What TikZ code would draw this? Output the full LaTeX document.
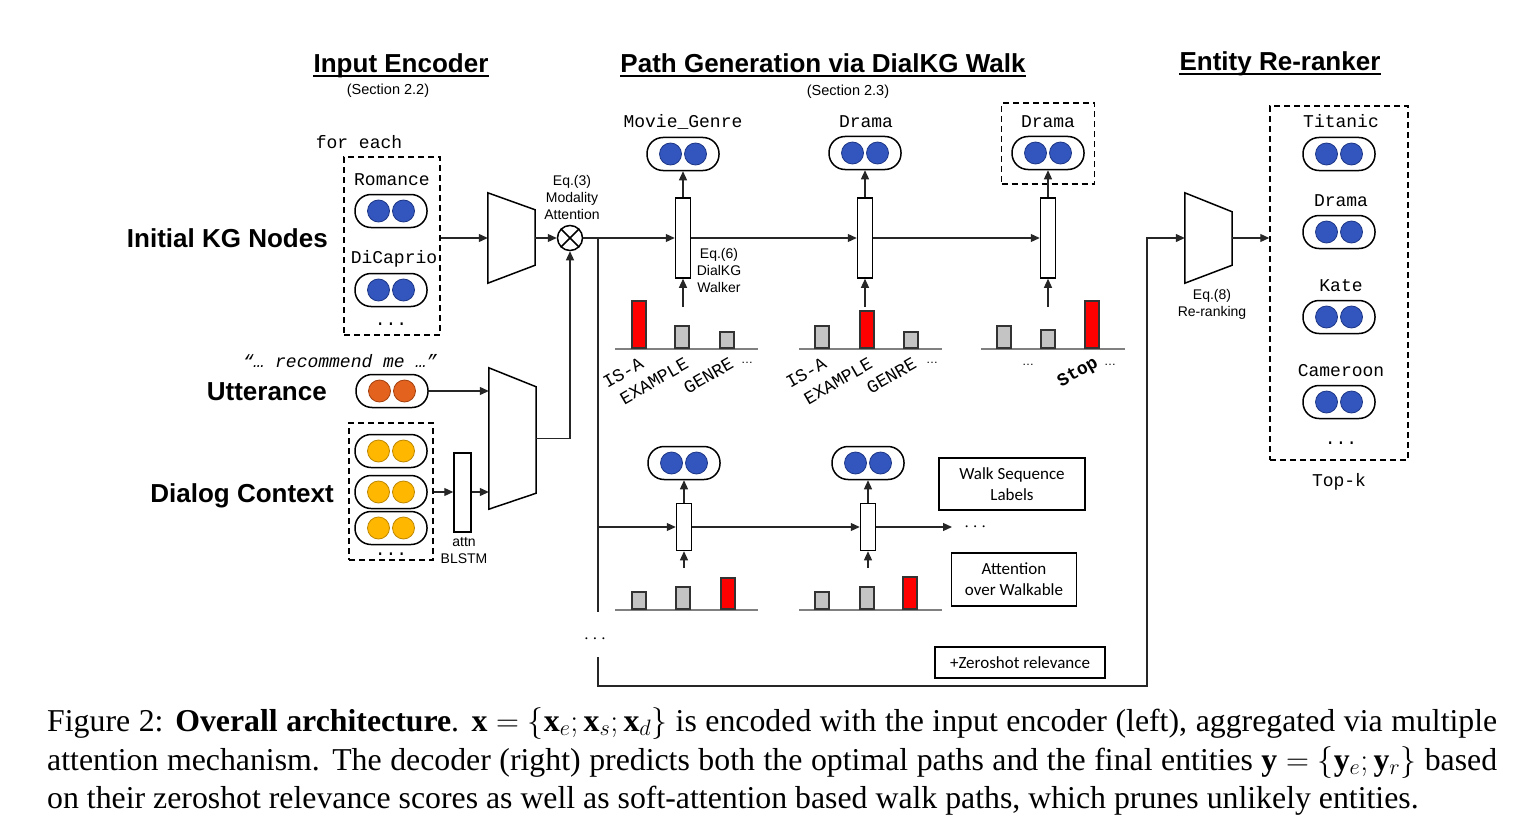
\RequirePackage{fix-cm}
\documentclass[tikz,border=0pt]{standalone}
\usepackage{fontspec}
\setmainfont{Liberation Serif}
\newfontfamily\arial{Liberation Sans}
\newfontfamily\cour{Liberation Mono}
\newfontfamily\calib{Carlito}
\usetikzlibrary{arrows.meta}

\definecolor{kgblue}{RGB}{50,86,190}
\definecolor{kgline}{RGB}{30,55,135}
\definecolor{uttorange}{RGB}{226,98,30}
\definecolor{uttline}{RGB}{165,65,15}
\definecolor{ctxyellow}{RGB}{255,183,0}
\definecolor{ctxline}{RGB}{190,135,0}
\definecolor{barred}{RGB}{255,0,0}
\definecolor{bargray}{RGB}{196,196,196}

% embedding pill with two dots: name, position, fill, border
\newcommand{\kgpill}[4]{%
  \node[pill] (#1) at (#2) {};
  \node[dot, fill=#3, draw=#4] (#1-l) at ([xshift=-12.5pt]#1.center) {};
  \node[dot, fill=#3, draw=#4] (#1-r) at ([xshift=12.5pt]#1.center) {};
}
% trapezoid drawn on an encoder node: name, top inset, bottom inset
\newcommand{\encshape}[3]{%
  \draw[encoder] (#1.south west) -- (#1.north west) -- ([yshift=-#2pt]#1.north east)
    -- ([yshift=#3pt]#1.south east) -- cycle;
}

\begin{document}
\begin{tikzpicture}[
  x=1pt, y=-1pt,
  conn/.style={line width=1.2pt, draw=black!85},
  arr/.style={conn, -{Triangle[length=9pt,width=8pt]}},
  pill/.style={rectangle, rounded corners=16pt, draw=black, line width=1.5pt, minimum width=72pt, minimum height=33pt, inner sep=0pt},
  dot/.style={circle, inner sep=0pt, minimum size=22pt, line width=0.8pt},
  dashbox/.style={draw, line width=1.5pt, dash pattern=on 6pt off 4pt, inner sep=0pt},
  encbox/.style={minimum width=47pt, inner sep=0pt},
  encoder/.style={draw, line width=1.5pt, line join=miter},
  walker/.style={draw, line width=1.5pt, fill=white, minimum width=15pt, minimum height=80pt, inner sep=0pt},
  attnbar/.style={draw=black!80, line width=1.5pt},
  axisline/.style={draw=black!50, line width=2pt},
  head/.style={font=\arial\bfseries\fontsize{26}{30}\selectfont, inner sep=0pt, text height=19pt, text depth=3pt},
  uline/.style={line width=2.4pt},
  sect/.style={font=\arial\fontsize{14.5}{17}\selectfont, inner sep=0pt},
  side/.style={font=\arial\bfseries\fontsize{26}{30}\selectfont, inner sep=0pt, anchor=base east},
  mono/.style={font=\cour\fontsize{18}{20}\selectfont, inner sep=0pt, anchor=base},
  lbl/.style={font=\arial\fontsize{14}{17}\selectfont, align=center, inner sep=0pt},
  rel/.style={font=\cour\fontsize{18}{20}\selectfont, inner sep=0pt, anchor=east, rotate=30},
  note/.style={draw, line width=1.3pt, font=\calib\fontsize{17}{21}\selectfont, align=center, inner sep=0pt},
  capline/.style={font=\fontsize{31.8}{38}\selectfont, inner sep=0pt, anchor=base west}
]
  \useasboundingbox (0,0) rectangle (1528,832);

  % --- Headings ---
  \node[head] (hEnc) at (401,65) {Input Encoder};
  \draw[uline] (hEnc.south west) -- (hEnc.south east);
  \node[sect] (sEnc) at (388,91) {(Section 2.2)};
  \node[head] (hPath) at (823,65) {Path Generation via DialKG Walk};
  \draw[uline] (hPath.south west) -- (hPath.south east);
  \node[sect] (sPath) at (848,92) {(Section 2.3)};
  \node[head] (hRank) at (1280,63) {Entity Re-ranker};
  \draw[uline] (hRank.south west) -- (hRank.south east);

  % --- Input encoder ---
  \node[side] (lKG) at (328,247) {Initial KG Nodes};
  \node[side] (lUtt) at (327,400) {Utterance};
  \node[side] (lCtx) at (334,502) {Dialog Context};

  \node[dashbox, minimum width=96pt, minimum height=178pt] (kgbox) at (392,246) {};
  \node[mono] (forEach) at (359,148) {for each};
  \node[mono] (tRomance) at (392,185) {Romance};
  \kgpill{pRomance}{391,211}{kgblue}{kgline}
  \node[mono] (tDiCaprio) at (394,263) {DiCaprio};
  \kgpill{pDiCaprio}{391,290}{kgblue}{kgline}
  \node[mono] (kgDots) at (391,325) {...};

  \node[mono, font=\cour\itshape\fontsize{18}{20}\selectfont] (quote) at (340,367) {“… recommend me …”};
  \kgpill{pUtt}{392,391}{uttorange}{uttline}

  \node[dashbox, minimum width=84pt, minimum height=137pt] (ctxbox) at (391,491.5) {};
  \foreach \cy [count=\i] in {451,492,528} {
    \kgpill{pCtx\i}{391,\cy}{ctxyellow}{ctxline}
  }
  \node[mono] (ctxDots) at (391,555) {...};
  \node[walker, minimum width=17pt, minimum height=79pt] (blstm) at (462.5,492.5) {};
  \node[lbl] (blstmLbl) at (464,551) {attn\\BLSTM};

  \node[encbox, minimum height=90pt] (enc1) at (511.5,238) {};
  \encshape{enc1}{17}{18}
  \node[encbox, minimum height=141pt] (enc2) at (512.5,438.5) {};
  \encshape{enc2}{19}{16}

  \node[circle, draw, line width=1.5pt, minimum size=25pt, inner sep=0pt] (mul) at (570,238) {};
  \draw[line width=1.5pt] (mul.north west) -- (mul.south east) (mul.north east) -- (mul.south west);
  \node[lbl] (mulLbl) at (572,197) {Eq.(3)\\Modality\\Attention};

  \draw[arr] (kgbox.east |- enc1.west) -- (enc1.west);
  \draw[arr] (enc1.east) -- (mul.west);
  \draw[arr] (pUtt.east) -- (pUtt.east -| enc2.west);
  \draw[arr] (ctxbox.east |- pCtx2) -- (blstm.west |- pCtx2);
  \draw[arr] (blstm.east |- pCtx2) -- (pCtx2 -| enc2.west);
  \draw[arr] (enc2.east) -| (mul.south);

  % --- Path generation (top walk) ---
  \node[walker] (w1) at (683,238) {};
  \node[walker] (w2) at (865,238) {};
  \node[walker] (w3) at (1048,238) {};
  \node[mono] (tMovie) at (683,128) {Movie\_Genre};
  \kgpill{pMovie}{683,154}{kgblue}{kgline}
  \node[mono] (tDrama) at (866,128) {Drama};
  \kgpill{pDrama}{865,153}{kgblue}{kgline}
  \node[dashbox, minimum width=93pt, minimum height=81pt] (selBox) at (1048,143.5) {};
  \node[mono] (tFinal) at (1048,128) {Drama};
  \kgpill{pFinal}{1048,153}{kgblue}{kgline}
  \node[lbl] (walkLbl) at (719,270) {Eq.(6)\\DialKG\\Walker};

  \draw[arr] (mul.east) -- (w1.west |- mul.east);
  \draw[arr] (w1) -- (w2);
  \draw[arr] (w2) -- (w3);
  \draw[arr] (w1) -- (pMovie);
  \draw[arr] (w2) -- (pDrama);
  \draw[arr] (w3) -- (pFinal);
  \coordinate (in1) at (683,307);
  \coordinate (in2) at (865,307);
  \coordinate (in3) at (1048,307);
  \draw[arr] (in1) -- (w1);
  \draw[arr] (in2) -- (w2);
  \draw[arr] (in3) -- (w3);

  % attention bars
  \draw[axisline] (615,349) -- (758,349) (799,349) -- (942,349) (981,349) -- (1125,349);
  \foreach \bx/\bt/\bc in {632/301/barred, 675/326/bargray, 720/332/bargray,
      815/326/bargray, 860/311/barred, 904/332/bargray,
      997/326/bargray, 1041/330/bargray, 1085/301/barred}
    \draw[attnbar, fill=\bc] (\bx,348) rectangle ++(14,\bt-348);
  \foreach \ex/\txt in {642/IS-A, 687/EXAMPLE, 732/GENRE, 825/IS-A, 871/EXAMPLE, 915/GENRE}
    \node[rel] (rel\ex) at (\ex,362) {\txt};
  \node[rel, font=\cour\bfseries\fontsize{18}{20}\selectfont] (relStop) at (1097,362) {Stop};
  \foreach \dx/\dy in {747/363, 932/363, 1028/365, 1110/365}
    \node[lbl, font=\arial\fontsize{12}{14}\selectfont] (dots\dx) at (\dx,\dy) {…};

  % --- Path generation (bottom walk) ---
  \coordinate (split2) at (598,527);
  \node[walker, minimum height=47pt] (v1) at (684,527) {};
  \node[walker, minimum height=47pt] (v2) at (868,527) {};
  \kgpill{pNext1}{684,463}{kgblue}{kgline}
  \kgpill{pNext2}{868,463}{kgblue}{kgline}
  \node[font=\fontsize{19}{20}\selectfont, anchor=west, inner sep=0pt, inner xsep=12pt] (moreDots) at (952,527) {$\cdots$};
  \draw[arr] (split2) -- (v1);
  \draw[arr] (v1) -- (v2);
  \draw[arr] (v2) -- (moreDots);
  \draw[arr] (v1) -- (pNext1);
  \draw[arr] (v2) -- (pNext2);
  \coordinate (in4) at (684,568);
  \coordinate (in5) at (868,568);
  \draw[arr] (in4) -- (v1);
  \draw[arr] (in5) -- (v2);

  \draw[axisline] (615,610) -- (758,610) (799,610) -- (942,610);
  \foreach \bx/\bt/\bc in {632/592/bargray, 676/587/bargray, 721/578/barred,
      815/592/bargray, 860/587/bargray, 903/577/barred}
    \draw[attnbar, fill=\bc] (\bx,609) rectangle ++(14,\bt-609);

  \node[note, minimum width=146pt, minimum height=52pt] (walkSeq) at (1012,484) {Walk Sequence\\Labels};
  \node[note, minimum width=125pt, minimum height=53pt] (attnWalk) at (1014,579.5) {Attention\\over Walkable};
  \node[note, minimum width=170pt, minimum height=31pt] (zeroShot) at (1020,662.5) {+Zeroshot relevance};

  % --- Trunk to re-ranker ---
  \coordinate (split) at (598,238);
  \coordinate (gapTop) at (598,612);
  \coordinate (gapBot) at (598,657);
  \coordinate (loopL) at (598,686);
  \coordinate (loopR) at (1147,686);
  \node[font=\fontsize{19}{20}\selectfont, inner sep=0pt] (gapDots) at (595,639) {$\cdots$};
  \draw[conn] (split) -- (gapTop);

  % --- Entity re-ranker ---
  \node[encbox, minimum height=90pt] (enc3) at (1208.5,238) {};
  \encshape{enc3}{19}{18}
  \node[lbl] (rankLbl) at (1212,304.5) {Eq.(8)\\Re-ranking};
  \draw[arr] (gapBot) -- (loopL) -- (loopR) |- (enc3.west);

  \node[dashbox, minimum width=138pt, minimum height=354pt] (rankBox) at (1339,283) {};
  \draw[arr] (enc3.east) -- (enc3.east -| rankBox.west);
  \foreach \nm/\ly/\py [count=\k] in {Titanic/128/154, Drama/206/232, Kate/291/317, Cameroon/376/402} {
    \node[mono] (tRank\k) at (1341,\ly) {\nm};
    \kgpill{pRank\k}{1339,\py}{kgblue}{kgline}
  }
  \node[mono] (rankDots) at (1341,444) {...};
  \node[mono] (topK) at (1339,486) {Top-k};

  % --- Caption ---
  \node[capline] (cap1) at (47,731) {\makebox[1450pt][s]{Figure 2: \textbf{Overall architecture}. \mbox{$\mathbf{x}=\{\mathbf{x}_e;\mathbf{x}_s;\mathbf{x}_d\}$} is encoded with the input encoder (left), aggregated via multiple}};
  \node[capline] (cap2) at (47,770) {\makebox[1450pt][s]{attention mechanism. The decoder (right) predicts both the optimal paths and the final entities \mbox{$\mathbf{y}=\{\mathbf{y}_e;\mathbf{y}_r\}$} based}};
  \node[capline] (cap3) at (47,808) {on their zeroshot relevance scores as well as soft-attention based walk paths, which prunes unlikely entities.};

\end{tikzpicture}
\end{document}
